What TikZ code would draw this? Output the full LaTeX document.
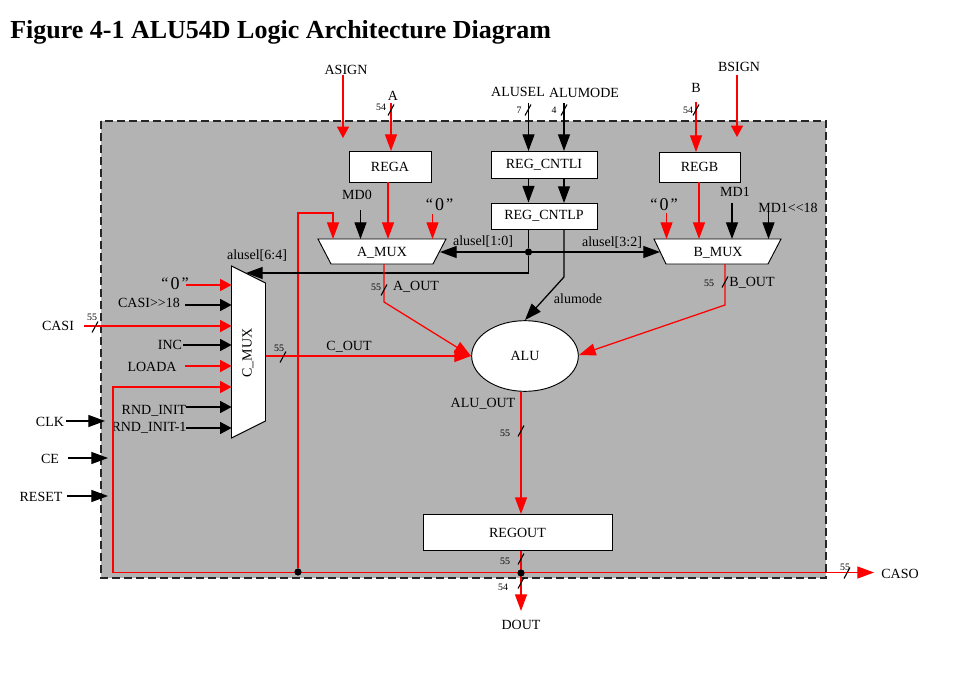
\documentclass[tikz,border=0pt]{standalone}
\usepackage{fontspec}
\setmainfont{Liberation Serif}
\usetikzlibrary{arrows.meta,calc,shapes.geometric}
\definecolor{panelgray}{HTML}{B3B3B3}
\newcommand{\busslash}[1]{\draw[black,line width=.8pt] ($(#1)+(-3,5.5)$) -- ($(#1)+(3,-5.5)$);}
\newcommand{\quotedzero}{\raisebox{1pt}{\fontsize{12}{12}\selectfont“}\hspace{1.5pt}0\hspace{1.5pt}\raisebox{1pt}{\fontsize{12}{12}\selectfont”}}
\tikzset{
  x=0.75pt,y=-0.75pt,
  lab/.style={inner sep=0pt,font=\fontsize{10.5}{12}\selectfont,text=black},
  small/.style={inner sep=0pt,font=\fontsize{7.4}{8}\selectfont,text=black},
  zero/.style={inner sep=0pt,font=\fontsize{13.5}{14}\selectfont,text=black},
  box/.style={draw=black,fill=white,line width=.7pt,inner sep=0pt,font=\fontsize{10.5}{12}\selectfont},
  mux/.style={draw=black,fill=white,line width=.7pt},
  sig/.style={line width=.95pt,-{Triangle[length=12.5pt,width=9pt]}},
  shorttip/.style={line width=.95pt,-{Triangle[length=8.5pt,width=9pt]}},
  redsig/.style={sig,draw=red,color=red},
  blksig/.style={sig,draw=black},
  redshort/.style={shorttip,draw=red,color=red},
  blkshort/.style={shorttip,draw=black},
  blkline/.style={line width=.95pt,draw=black},
  dot/.style={circle,fill=black,inner sep=0pt,minimum size=5.2pt},
}
\begin{document}
\begin{tikzpicture}
\useasboundingbox (0,0) rectangle (965,685);
\node[anchor=base west,inner sep=0pt,font=\fontsize{19.5}{22}\selectfont\bfseries] (title) at (10,39) {Figure 4-1 ALU54D Logic Architecture Diagram};

% panel
\fill[panelgray] (101,121) rectangle (826,578);
\draw[black!85,line width=1pt,dash pattern=on 6pt off 3pt] (101,121) rectangle (826,578);

% boxes
\node[box,minimum width=61.5pt,minimum height=23.25pt] (rega) at (390,166.5) {REGA};
\node[box,minimum width=60.75pt,minimum height=22.5pt] (regb) at (699.5,167) {REGB};
\node[box,minimum width=79.5pt,minimum height=20.25pt] (cntli) at (544,164.5) {REG\_CNTLI};
\node[box,minimum width=79.5pt,minimum height=19.5pt] (cntlp) at (544,216) {REG\_CNTLP};
\node[box,minimum width=141.75pt,minimum height=27pt] (regout) at (517.5,532.5) {REGOUT};
\node[draw=black,fill=white,line width=.7pt,ellipse,minimum width=80pt,minimum height=53pt,inner sep=0pt,font=\fontsize{10.5}{12}\selectfont] (alu) at (525,356) {ALU};

% muxes
\draw[mux] (318,239) -- (446,239) -- (433,264) -- (331,264) -- cycle;
\node[lab] (amux) at (382,253) {A\_MUX};
\draw[mux] (654,239) -- (781,239) -- (768,264) -- (666,264) -- cycle;
\node[lab] (bmux) at (718,253) {B\_MUX};
\draw[mux] (231.5,266) -- (265.5,283) -- (265.5,421) -- (231.5,438) -- cycle;
\node[lab,rotate=90] (cmux) at (248,353) {C\_MUX};

% labels
\node[lab] (asign) at (346,70) {ASIGN};
\node[lab] (a) at (393,96) {A};
\node[small] (n54a) at (381,107) {54};
\node[lab] (alusel) at (518,92) {ALUSEL};
\node[lab] (alumode) at (584,93) {ALUMODE};
\node[small] (n7) at (519,110) {7};
\node[small] (n4) at (554,110) {4};
\node[lab] (b) at (696,88) {B};
\node[small] (n54b) at (688,110) {54};
\node[lab] (bsign) at (739,67) {BSIGN};
\node[lab] (md0) at (357,195) {MD0};
\node[zero] (z0a) at (439.5,205) {\quotedzero};
\node[zero] (z0b) at (664,205) {\quotedzero};
\node[lab] (md1) at (735,192) {MD1};
\node[lab] (md1s) at (788,208) {MD1<{}<18};
\node[lab] (sel10) at (483,242) {alusel[1:0]};
\node[lab] (sel32) at (612,243) {alusel[3:2]};
\node[lab] (sel64) at (257,256) {alusel[6:4]};
\node[lab] (almode) at (578,299) {alumode};
\node[small] (n55a) at (376,287) {55};
\node[lab] (aout) at (416,287) {A\_OUT};
\node[small] (n55b) at (709,283) {55};
\node[lab] (bout) at (752,283) {B\_OUT};
\node[zero] (z0c) at (175,284) {\quotedzero};
\node[lab] (casis) at (149,303) {CASI>{}>18};
\node[lab] (casi) at (58,326) {CASI};
\node[small] (n55c) at (92,317) {55};
\node[lab] (inc) at (170,345) {INC};
\node[lab] (loada) at (152,367) {LOADA};
\node[lab] (rnd) at (154,411) {RND\_INIT};
\node[lab] (rnd1) at (149,428) {RND\_INIT-1};
\node[lab] (clk) at (50,422) {CLK};
\node[lab] (ce) at (50,459) {CE};
\node[lab] (reset) at (41,497) {RESET};
\node[small] (n55d) at (279,348) {55};
\node[lab] (cout) at (349,347) {C\_OUT};
\node[lab] (aluout) at (483,404) {ALU\_OUT};
\node[small] (n55e) at (505,433) {55};
\node[small] (n55f) at (505,561) {55};
\node[small] (n54c) at (503,587) {54};
\node[lab] (dout) at (521,625) {DOUT};
\node[small] (n55g) at (845,567) {55};
\node[lab] (caso) at (900,574) {CASO};

% junctions
\node[dot] (j1) at (528.5,252) {};
\node[dot] (j2) at (298,572) {};
\node[dot] (j3) at (521,573) {};

% free ends
\coordinate (tA) at (388,239); \coordinate (tAl) at (333,239); \coordinate (tAm) at (360.5,239); \coordinate (tAr) at (432.5,239);
\coordinate (tB0) at (666.5,239); \coordinate (tBr) at (699,239); \coordinate (tBm) at (732,239); \coordinate (tBs) at (768.5,239);
\coordinate (rA) at (440,252); \coordinate (lB) at (660,252);
\coordinate (bA) at (384,264); \coordinate (bB) at (725,264);
\coordinate (cTop) at (246,273);
\coordinate (cOut) at (265.5,356);
\coordinate (aluL) at (471,356); \coordinate (aluR) at (579,355); \coordinate (aluT) at (525,320);
\coordinate (ec) at (874,572.5);

% top inputs
\draw[redshort] (343,75) -- (343,138);
\draw[redshort] (737,75) -- (737,137);
\draw[redsig] (391,103) -- (391,151);
\draw[redsig] (696,102) -- (696,152);
\draw[blksig] (528.5,103) -- (528.5,151);
\draw[blksig] (564,103) -- (564,151);
\draw[blksig] (cntli.south -| j1) -- (cntlp.north -| j1);
\draw[blksig] (564,178) -- (564,203);

% A mux
\draw[redsig] (rega.south -| tA) -- (tA);
\draw[blksig] (360.5,210) -- (tAm);
\draw[redsig] (432.5,214) -- (tAr);
\draw[redsig] (j2) -- (298,213) -- (333,213) -- (tAl);
% B mux
\draw[redsig] (regb.south -| tBr) -- (tBr);
\draw[redsig] (666.5,213) -- (tB0);
\draw[blksig] (732,203) -- (tBm);
\draw[blksig] (768.5,212) -- (tBs);

% selects
\draw[blkline] (cntlp.south -| j1) -- (j1);
\draw[blksig] (j1) -- (rA);
\draw[blksig] (j1) -- (lB);
\draw[blksig] (j1) -- (528.5,273) -- (cTop);
\draw[blksig] (564,229) -- (564,277) -- (aluT);

% outputs to ALU
\draw[redsig] (bA) -- (384,302) -- (aluL);
\draw[redsig] (bB) -- (725,305) -- (aluR);
\draw[redsig] (cOut) -- (aluL);
\draw[redsig] (521,392) -- (regout.north -| j3);

% C mux inputs
\draw[redshort] (186,285) -- (231.5,285);
\draw[blkshort] (185,305) -- (231.5,305);
\draw[redshort] (84,326) -- (231.5,326);
\draw[blkshort] (183,345) -- (231.5,345);
\draw[redshort] (185,366) -- (231.5,366);
\draw[blkshort] (186,407) -- (231.5,407);
\draw[blkshort] (186,428) -- (231.5,428);
\draw[redsig] (j3 |- ec) -- (ec);
\draw[redshort] (j3 |- ec) -- (113,572.5) -- (113,387) -- (231.5,387);

% left side
\draw[blksig] (66,421) -- (105,421);
\draw[blksig] (68,458) -- (108,458);
\draw[blksig] (67,496) -- (108,496);

% bottom
\draw[redsig] (regout.south -| j3) -- (521,611);
\node[dot] at (j1) {};
\node[dot] at (j2) {};
\node[dot] at (j3) {};

% bus slashes
\busslash{391,110}
\busslash{528,110}
\busslash{564,110}
\busslash{696,110}
\busslash{384,290}
\busslash{725,282}
\busslash{95,327}
\busslash{283,357}
\busslash{521,431}
\busslash{521,559}
\busslash{521,583}
\busslash{847,573}
\end{tikzpicture}
\end{document}
